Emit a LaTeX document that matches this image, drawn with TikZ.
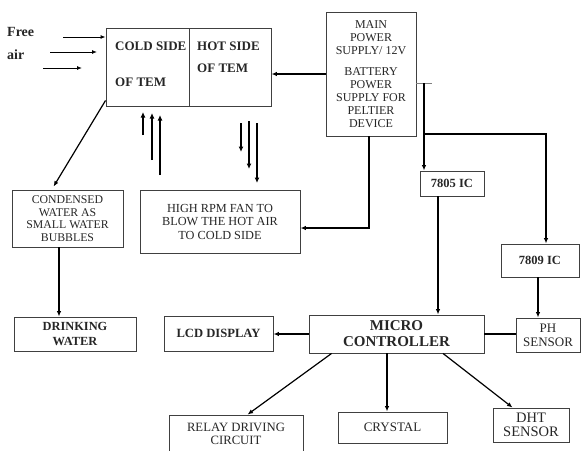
\documentclass[tikz,border=0pt]{standalone}
\usepackage{fontspec}
\setmainfont{Liberation Serif}
\usetikzlibrary{arrows.meta}
\newcommand{\fs}[2]{\fontsize{#1}{#2}\selectfont}
\begin{document}
\begin{tikzpicture}[x=1pt,y=-1pt,
  box/.style={draw=black!75, line width=0.9pt, align=center, inner sep=0pt, text=black!85},
  lbl/.style={inner sep=0pt, align=left, text=black!85},
  link/.style={-{Latex[length=5.5pt,width=4.5pt]}, line width=1.2pt},
  fat/.style={-{Latex[length=5.5pt,width=5pt]}, line width=1.6pt},
  thin link/.style={-{Latex[length=5pt,width=4pt]}, line width=0.9pt},
  wire/.style={line width=1.2pt}]
\useasboundingbox (0,0) rectangle (581,450);

% thermo electric module
\node[box, minimum width=83, minimum height=78] (cold) at (147.5,67) {};
\node[box, minimum width=82, minimum height=78] (hot) at (230,67) {};
\node[lbl, anchor=base west, font=\fs{13}{15}\bfseries] (coldA) at (115,50) {COLD SIDE};
\node[lbl, anchor=base west, font=\fs{13}{15}\bfseries] (coldB) at (115,86) {OF TEM};
\node[lbl, anchor=base west, font=\fs{13}{15}\bfseries] (hotA) at (197,50) {HOT SIDE};
\node[lbl, anchor=base west, font=\fs{13}{15}\bfseries] (hotB) at (197,72) {OF TEM};

% free air
\node[lbl, anchor=north west, font=\fs{14}{23}\bfseries] (free) at (7,27) {Free\\air};
\coordinate (a1) at (63,37);
\coordinate (a2) at (50,52);
\coordinate (b2) at (97,52);
\coordinate (a3) at (43,68);
\coordinate (b3) at (82,68);
\draw[thin link] (a1) -- (a1 -| cold.west);
\draw[thin link] (a2) -- (b2);
\draw[thin link] (a3) -- (b3);

% power
\node[box, minimum width=90, minimum height=124, font=\fs{12}{13}] (main) at (371,74)
  {MAIN\\POWER\\SUPPLY/ 12V\\[8pt]BATTERY\\POWER\\SUPPLY FOR\\PELTIER\\DEVICE};
\draw[link] (main.west) -- (main.west -| hot.east);

% air flow
\foreach \x/\a/\b [count=\i] in {143/135/112, 152/160/113, 160/175/115}{
  \coordinate (u\i) at (\x,\a);
  \coordinate (v\i) at (\x,\b);
  \draw[fat] (u\i) -- (v\i);
}
\foreach \x/\a/\b [count=\i] in {241/123/152, 249/121/169, 257/123/183}{
  \coordinate (p\i) at (\x,\a);
  \coordinate (q\i) at (\x,\b);
  \draw[fat] (p\i) -- (q\i);
}

\node[box, minimum width=111, minimum height=57, font=\fs{11.8}{12.7}] (condensed) at (67.5,218.5)
  {CONDENSED\\WATER AS\\SMALL WATER\\BUBBLES};
\node[box, minimum width=160, minimum height=63, font=\fs{12.3}{13.5}] (fan) at (220,221.5)
  {HIGH RPM FAN TO\\BLOW THE HOT AIR\\TO COLD SIDE};
\node[box, minimum width=122, minimum height=34, font=\fs{12.4}{15}\bfseries] (drinking) at (75,334)
  {DRINKING\\WATER};

\draw[link] ([yshift=6pt]cold.south west) -- ([xshift=42pt,yshift=3pt]condensed.north west);
\coordinate (cd) at ([xshift=-8.5pt]condensed.south);
\draw[link] (cd) -- (cd |- drinking.north);
\coordinate (mp) at (369,228);
\draw[link] (main.south -| mp) -- (mp) -- (mp -| fan.east);

% regulators
\node[box, minimum width=64, minimum height=25, font=\fs{12.5}{14}\bfseries] (ic5) at (452,183.5) {7805 IC};
\node[box, minimum width=78, minimum height=33, font=\fs{12.5}{14}\bfseries] (ic9) at (540,260.5) {7809 IC};
\coordinate (tick) at (432,83);
\coordinate (tap) at (424,83);
\coordinate (br) at (424,134);
\coordinate (br2) at (546,134);
\draw[line width=0.6pt, black!50] (main.east |- tick) -- (tick);
\draw[link] (tap) -- (tap |- ic5.north);
\draw[link] (br) -- (br2) -- (br2 |- ic9.north);

% controller
\node[box, minimum width=175, minimum height=38, font=\fs{15}{16}\bfseries] (mc) at (396.5,334)
  {MICRO\\CONTROLLER};
\node[box, minimum width=64, minimum height=34, font=\fs{13}{14}] (ph) at (548,335) {PH\\SENSOR};
\node[box, minimum width=109, minimum height=35, font=\fs{12.6}{14}\bfseries] (lcd) at (218.5,333.5) {LCD DISPLAY};
\node[box, minimum width=134, minimum height=38, font=\fs{12.7}{13}] (relay) at (236,434)
  {RELAY DRIVING\\CIRCUIT};
\node[box, minimum width=109, minimum height=31, font=\fs{13}{14}] (crystal) at (392.5,427.5) {CRYSTAL};
\node[box, minimum width=76, minimum height=34, font=\fs{14.5}{14}] (dht) at (531,425) {DHT\\SENSOR};

\coordinate (c5) at ([xshift=-14pt]ic5.south);
\draw[link] (c5) -- (c5 |- mc.north);
\draw[link] ([xshift=-2pt]ic9.south) -- ([xshift=-2pt]ic9.south |- ph.north);
\draw[wire] (mc.east) -- (mc.east -| ph.west);
\draw[link] (mc.west) -- (mc.west -| lcd.east);
\draw[link] ([xshift=23pt]mc.south west) -- ([xshift=79pt]relay.north west);
\coordinate (cx) at ([xshift=-9.5pt]mc.south);
\draw[link] (cx) -- (cx |- crystal.north);
\draw[link] ([xshift=46.5pt]mc.south) -- ([xshift=20pt]dht.north west);
\end{tikzpicture}
\end{document}
